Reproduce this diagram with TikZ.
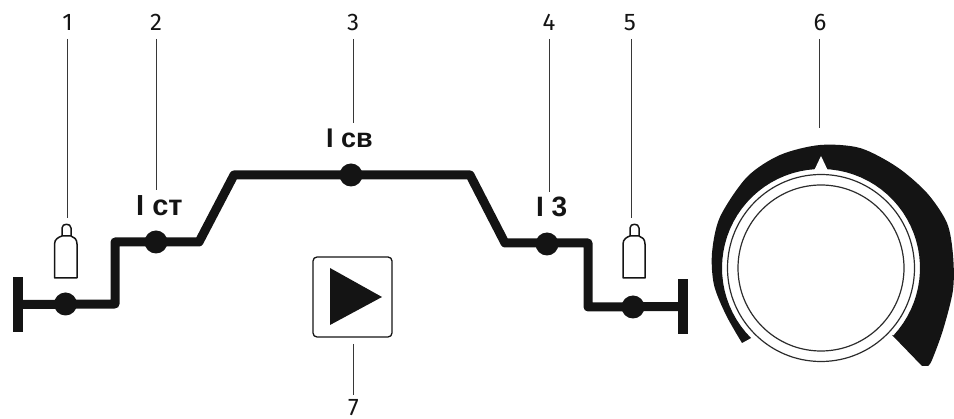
\documentclass[tikz,border=0pt]{standalone}
\usepackage{fontspec}
\setmainfont{Fira Sans}
\newfontfamily\lblfont{Liberation Sans}
\tikzset{
  x=1pt,y=-1pt,
  wire/.style={line width=9pt,color=ink,line join=round},
  barstyle/.style={fill=ink,draw=none,minimum width=10pt,minimum height=55pt,inner sep=0pt,rectangle},
  junction/.style={circle,fill=ink,draw=none,minimum size=23pt,inner sep=0pt},
  leader/.style={line width=0.9pt,color=ink!85},
  num/.style={font=\fontsize{24}{24}\selectfont,text=ink,inner sep=0pt,anchor=base},
  cur/.style={font=\lblfont\bfseries\fontsize{27}{27}\selectfont,text=ink,inner sep=0pt,anchor=base west},
  bottle/.style={draw=ink,line width=1.5pt,fill=white,line join=round},
  ring/.style={draw=ink!90,line width=1.2pt}
}
\definecolor{ink}{HTML}{141414}
\begin{document}
\begin{tikzpicture}
\useasboundingbox (0,0) rectangle (954,419);
% numbers
\node[num] (n1) at (67.5,31) {1};
\node[num] (n2) at (156,31) {2};
\node[num] (n3) at (353,31) {3};
\node[num] (n4) at (549,31) {4};
\node[num] (n5) at (630,31) {5};
\node[num] (n6) at (820,31) {6};
\node[num] (n7) at (353.5,416) {7};
% leaders
\coordinate (t1) at (67.5,39); \coordinate (b1) at (67.5,218);
\coordinate (t2) at (156,39);  \coordinate (b2) at (156,190);
\coordinate (t3) at (353,39);  \coordinate (b3) at (353,123);
\coordinate (t4) at (549,39);  \coordinate (b4) at (549,192);
\coordinate (t5) at (631,39);  \coordinate (b5) at (631,218);
\coordinate (t6) at (819.5,39);\coordinate (b6) at (819.5,128);
\coordinate (t7) at (353.7,344);\coordinate (b7) at (353.7,395);
\foreach \i in {1,...,7} \draw[leader] (t\i) -- (b\i);
% weld line
\node[barstyle] (barL) at (18,304.5) {};
\node[barstyle] (barR) at (683,306.5) {};
\coordinate (k1) at (115,304);
\coordinate (k2) at (115,242);
\coordinate (k3) at (199,242);
\coordinate (k4) at (234,175);
\coordinate (k5) at (470,175);
\coordinate (k6) at (505,243);
\coordinate (k7) at (588,243);
\coordinate (k8) at (588,307);
\draw[wire] (barL.center) -- (k1) -- (k2) -- (k3) -- (k4) -- (k5) -- (k6) -- (k7) -- (k8) -- (barR.center);
\node[junction] (j1) at (65.5,304) {};
\node[junction] (j2) at (156,242) {};
\node[junction] (j3) at (351,175) {};
\node[junction] (j4) at (547,244) {};
\node[junction] (j5) at (633,307) {};
% gas bottles
\draw[bottle] (54.5,278) -- (54.5,244) .. controls (54.5,239) and (59,237) .. (62,236) -- (62,228) .. controls (62,223) and (71,223) .. (71,228) -- (71,236) .. controls (74,237) and (77,239) .. (77,244) -- (77,278) -- cycle (62,236) -- (71,236);
\draw[bottle] (623,278) -- (623,244) .. controls (623,239) and (627,237) .. (630,236) -- (630,228) .. controls (630,223) and (639,223) .. (639,228) -- (639,236) .. controls (642,237) and (645,239) .. (645,244) -- (645,278) -- cycle (630,236) -- (639,236);
% current labels
\node[cur,font=\lblfont\bfseries\fontsize{29}{29}\selectfont] (lst) at (136,216) {I ст};
\node[cur] (lsv) at (326,148) {I св};
\node[cur,font=\lblfont\bfseries\fontsize{28}{28}\selectfont] (lz) at (536,217) {I 3};
% button
\draw[line width=1.3pt,color=ink,rounded corners=4pt] (313,257) rectangle (392,337);
\fill[ink] (330,268) -- (382,297) -- (330,325) -- cycle;
% dial
\fill[ink] plot[smooth] coordinates {(742,343) (726,315) (714,285) (712,253) (720,217) (747,177) (780,155) (820,145) (860,148) (897,167) (927,193) (947,223) (953,255) (953,290) (943,330) (932,360) (928,366)}
  -- (922,366) -- (892,335)
  -- plot[domain=43:-225,samples=60] ({821+99*cos(\x)},{268+99*sin(\x)}) -- cycle;
\fill[white] (821,156) -- (830,175) -- (812,175) -- cycle;
\draw[ring] (821,268) circle[radius=93.5pt];
\draw[ring] (821,268) circle[radius=83pt];
\end{tikzpicture}
\end{document}
